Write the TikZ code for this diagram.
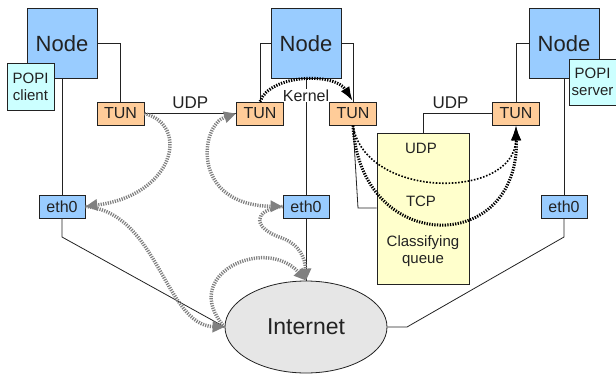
\documentclass[tikz,border=0pt]{standalone}
\usepackage{fontspec}
\setmainfont{Liberation Sans}
\usetikzlibrary{arrows.meta,shapes.geometric}
\definecolor{nodeblue}{HTML}{99CCFF}
\definecolor{popicyan}{HTML}{CCFFFF}
\definecolor{tunorange}{HTML}{FFCC99}
\definecolor{queueyellow}{HTML}{FFFFCC}
\definecolor{netgray}{HTML}{E6E6E6}
\definecolor{flowgray}{HTML}{808080}
\definecolor{ink}{HTML}{222222}

\begin{document}
\begin{tikzpicture}[x=1pt,y=-1pt,line width=0.8pt,draw=ink,text=ink,
    host node/.style={rectangle,draw=ink,fill=nodeblue,minimum width=70pt,minimum height=70pt,font=\fontsize{22}{24}\selectfont},
    popi node/.style={rectangle,draw=ink,fill=popicyan,minimum width=47pt,minimum height=47pt,inner sep=1pt,align=center,font=\fontsize{15}{17}\selectfont},
    tun node/.style={rectangle,draw=ink,fill=tunorange,minimum width=47pt,minimum height=23pt,inner sep=1pt,font=\fontsize{16}{18}\selectfont},
    eth node/.style={rectangle,draw=ink,fill=nodeblue,minimum width=46pt,minimum height=23pt,inner sep=1pt,font=\fontsize{16}{18}\selectfont},
    proto/.style={inner sep=1pt,font=\fontsize{17}{19}\selectfont},
    qlabel/.style={inner sep=1pt,align=center,font=\fontsize{15}{17}\selectfont},
    flow/.style={draw=flowgray,line width=3.5pt,dash pattern=on 1.2pt off 1.2pt},
    gtip/.style={-{Triangle[length=12pt,width=11pt,flowgray]}},
    kdot/.style={draw=black,line width=1.6pt,dash pattern=on 1.6pt off 1.6pt},
    kdot thick/.style={draw=black,line width=3pt,dash pattern=on 1.3pt off 1.3pt},
    ktip/.style={-{Latex[length=15pt,width=10pt,black]}}]

  \useasboundingbox (0,0) rectangle (616,375);

  % hosts and interfaces
  \node[host node] (node1) at (62,43.5) {Node};
  \node[popi node] (popi1) at (30.5,86.5) {POPI\\client};
  \node[host node] (node2) at (306,43.5) {Node};
  \node[host node] (node3) at (564,43.5) {Node};
  \node[popi node,minimum height=46pt] (popi3) at (592.5,82) {POPI\\server};

  \node[tun node] (tun1) at (120.5,113.5) {TUN};
  \node[tun node] (tun2) at (260,113.5) {TUN};
  \node[tun node] (tun3) at (353,113.5) {TUN};
  \node[tun node] (tun4) at (516,113.5) {TUN};

  \node[eth node] (eth1) at (62,206.5) {eth0};
  \node[eth node] (eth2) at (306,206.5) {eth0};
  \node[eth node] (eth3) at (564,206.5) {eth0};

  \node[ellipse,draw=ink,fill=netgray,minimum width=162pt,minimum height=92pt,
        font=\fontsize{23}{25}\selectfont] (inet) at (306,327) {Internet};

  % classifying queue
  \node[rectangle,draw=ink,fill=queueyellow,minimum width=92pt,minimum height=151pt] (queue) at (423,208.5) {};
  \node[qlabel] (qudp) at (421,148.5) {UDP};
  \node[qlabel] (qtcp) at (421,201.5) {TCP};
  \node[qlabel] (qclass) at (423,251) {Classifying\\queue};

  % wires
  \coordinate (bend1) at (62,237);
  \coordinate (bend3a) at (407,327);
  \coordinate (bend3b) at (564,237);
  \coordinate (qjoin) at (358,208);
  \draw (node1.east) -| (tun1.north);
  \draw (node2.west) -| (tun2.north);
  \draw (node2.east) -| (tun3.north);
  \draw (node3.west) -| (tun4.north);
  \draw (node1.south) -- (eth1.north);
  \draw (node2.south) -- (eth2.north);
  \draw (node3.south) -- (eth3.north);
  \draw (eth1.south) -- (bend1) -- (inet.west);
  \draw (eth2.south) -- (inet.north);
  \draw (eth3.south) -- (bend3b) -- (bend3a) -- (inet.east);
  \draw (tun1.east) -- node[proto,above=3pt] {UDP} (tun2.west);
  \draw (tun4.west) -| node[proto,pos=0.3,above=3pt] {UDP} (queue.north);
  \draw (tun3.south) -- (qjoin) -- (queue.west |- qjoin);

  \node[proto,fill=white,font=\fontsize{16}{18}\selectfont] (kernel) at (306,95.5) {Kernel};

  % packet path through the internet
  \draw[flow,gtip] (tun1.east) .. controls (190,125) and (175,195) .. (eth1.east);
  \draw[flow,gtip] (eth1.east) .. controls (158,212) and (165,325) .. (inet.west);
  \draw[flow,gtip] (inet.west) .. controls (178,275) and (265,235) .. (inet.north);
  \draw[flow,{Triangle[length=12pt,width=11pt,flowgray]}-{Triangle[length=12pt,width=11pt,flowgray]}]
    (tun2.west) .. controls (200,125) and (190,205) .. (eth2.west);
  \coordinate (dip) at (282,238);
  \draw[flow,gtip] (eth2.west) .. controls (252,210) and (252,228) .. (dip)
    .. controls (300,245) and (305,258) .. (inet.north);

  % kernel and queue paths
  \draw[kdot thick,ktip] (tun2.north) .. controls (270,74) and (335,72) .. (tun3.north);
  \draw[kdot,ktip] (tun3.south) .. controls (365,200) and (515,200) .. (tun4.south);
  \draw[kdot thick,ktip] (tun3.south) .. controls (360,256) and (520,256) .. (tun4.south);
\end{tikzpicture}
\end{document}
